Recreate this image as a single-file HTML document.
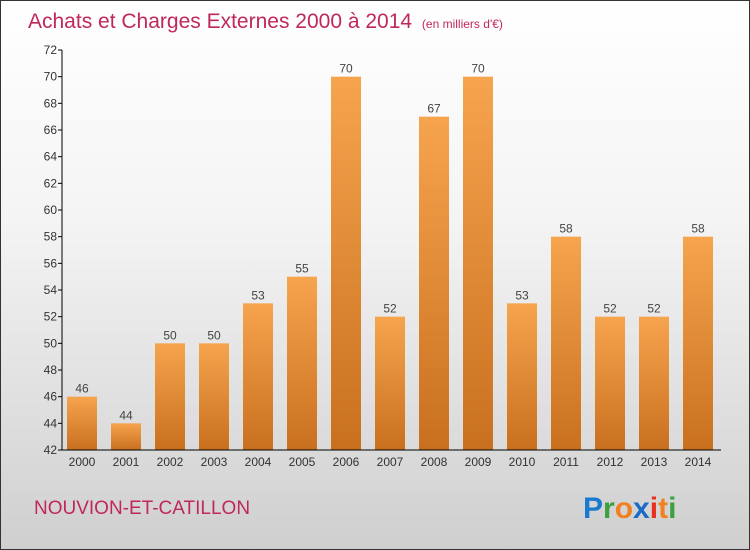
<!DOCTYPE html>
<html><head><meta charset="utf-8"><style>
body{margin:0}
#c{width:748px;height:548px;border:1px solid #333;background:linear-gradient(#ffffff,#f4f4f4 40%,#cfcfcf);position:relative;font-family:"Liberation Sans",sans-serif;overflow:hidden}
</style></head><body>
<div id="c">
<svg width="748" height="548" style="position:absolute;left:0;top:0" id="svg">
<defs><linearGradient id="bg" x1="0" y1="0" x2="0" y2="1"><stop offset="0" stop-color="#f7a44e"/><stop offset="1" stop-color="#c8701e"/></linearGradient></defs>
<text x="27" y="27" font-size="21" fill="#c0285a" font-weight="300">Achats et Charges Externes 2000 à 2014 <tspan font-size="12" dx="4">(en milliers d'€)</tspan></text>
<text x="33" y="513" font-size="19" fill="#c0285a">NOUVION-ET-CATILLON</text>
<g font-size="30" font-weight="bold" font-family="Liberation Sans, sans-serif">
<text x="582" y="517" fill="#1a7ad0">P<tspan fill="#3aa040">r</tspan><tspan fill="#f08020">o</tspan><tspan fill="#1a6ac8">x</tspan><tspan fill="#e83020">i</tspan><tspan fill="#f08020">t</tspan><tspan fill="#3aa040">i</tspan></text>
</g>
<g id="g"></g>
</svg>
</div>
<script>
const years=["2000","2001","2002","2003","2004","2005","2006","2007","2008","2009","2010","2011","2012","2013","2014"];
const values=[46,44,50,50,53,55,70,52,67,70,53,58,52,52,58];
const yTicks=[42,44,46,48,50,52,54,56,58,60,62,64,66,68,70,72];
const ymin=42,ymax=72,plotTop=49,plotBot=449,x0=81,step=44,bw=30;
const y=v=>plotBot-(v-ymin)/(ymax-ymin)*(plotBot-plotTop);
const x=i=>x0+i*step;
const g=document.getElementById('g');
const NS="http://www.w3.org/2000/svg";
function mk(t,a){const e=document.createElementNS(NS,t);for(const k in a)e.setAttribute(k,a[k]);g.appendChild(e);return e;}
values.forEach((v,i)=>{
 const r=mk('rect',{x:x(i)-bw/2,y:y(v),width:bw,height:plotBot-y(v),fill:'url(#bg)'});
 
 
 const t=mk('text',{x:x(i),y:y(v)-4,'text-anchor':'middle','font-size':12,fill:'#444'});
 t.textContent=v;
 
 
 const l=mk('text',{x:x(i),y:plotBot+16,'text-anchor':'middle','font-size':12,fill:'#333'});
 l.textContent=years[i];
 
 
});
yTicks.forEach(v=>{
 mk('line',{x1:57,x2:61,y1:y(v),y2:y(v),stroke:'#000'});
 const t=mk('text',{x:56,y:y(v)+4,'text-anchor':'end','font-size':12,fill:'#333'});
 t.textContent=v;
 
 
});
const ya=mk('line',{x1:61,x2:61,y1:plotTop,y2:plotBot,stroke:'#000'});


const xa=mk('line',{x1:61,x2:720,y1:plotBot,y2:plotBot,stroke:'#000'});


</script>
</body></html>
